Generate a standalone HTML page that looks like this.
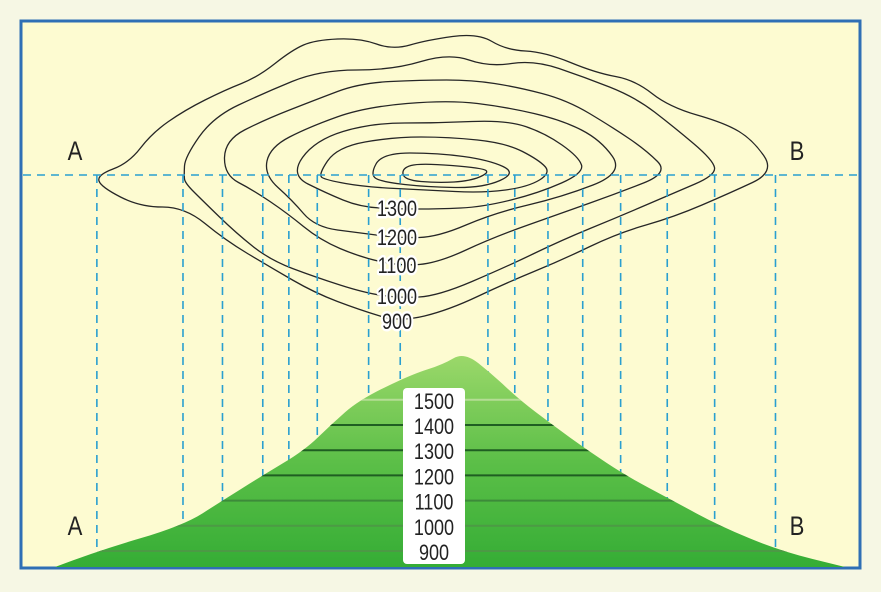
<!DOCTYPE html>
<html><head><meta charset="utf-8">
<style>
html,body{margin:0;padding:0;background:#f6f7e4;}
svg{display:block;}
text{font-family:"Liberation Sans",sans-serif;}
</style></head>
<body>
<svg id="fig" width="881" height="592" viewBox="0 0 881 592">
  <rect x="0" y="0" width="881" height="592" fill="#f6f7e4"/>
  <rect x="21" y="21" width="839" height="547" fill="#fdfbd1" stroke="#2f6fb5" stroke-width="3"/>
  <g id="contours"></g>
  <line x1="23" y1="175" x2="858" y2="175" stroke="#2a9fd0" stroke-width="1.6" stroke-dasharray="8,6"/>
  <g id="drops"></g>
  <g id="profile"></g>
  <g id="labels"></g>
</svg>
<script>
// Section data: distance along A–B (0–100) and elevation (m) at each contour crossing
const distances = [0, 5.3, 16.2, 21.2, 26.3, 31.6, 34.9, 38.5, 45.1, 49.1, 51.8, 55.4, 58.8, 63.0, 67.4, 72.2, 78.2, 84.1, 91.8, 100];
const elevations = [840, 900, 1000, 1100, 1200, 1300, 1400, 1500, 1600, 1640, 1690, 1600, 1500, 1400, 1300, 1200, 1100, 1000, 900, 840];
const crossDistances = [5.3, 16.2, 21.2, 26.3, 29.6, 33.2, 39.7, 43.7, 54.8, 58.2, 62.4, 66.8, 71.6, 77.5, 83.5, 91.2];
const profileLevels = [900, 1000, 1100, 1200, 1300, 1400, 1500];
const mapLabels = ["1300", "1200", "1100", "1000", "900"];

const NS = "http://www.w3.org/2000/svg";
const X0 = 55, X1 = 845;
const xs = d => X0 + (X1 - X0) * d / 100;
const ys = e => 551 - (e - 900) * 0.252;

function mk(tag, attrs, parent) {
  const el = document.createElementNS(NS, tag);
  for (const k in attrs) el.setAttribute(k, attrs[k]);
  parent.appendChild(el);
  return el;
}
function smooth(pts, closed) {
  const n = pts.length;
  let d = "";
  if (closed) {
    const m = (a, b) => [(a[0] + b[0]) / 2, (a[1] + b[1]) / 2];
    let s = m(pts[n - 1], pts[0]);
    d = "M" + s[0] + "," + s[1];
    for (let i = 0; i < n; i++) {
      const p = pts[i], q = m(pts[i], pts[(i + 1) % n]);
      d += " Q" + p[0] + "," + p[1] + " " + q[0] + "," + q[1];
    }
    return d + "Z";
  }
  d = "M" + pts[0][0] + "," + pts[0][1];
  for (let i = 1; i < n - 1; i++) {
    const q = [(pts[i][0] + pts[i + 1][0]) / 2, (pts[i][1] + pts[i + 1][1]) / 2];
    d += " Q" + pts[i][0] + "," + pts[i][1] + " " + q[0] + "," + q[1];
  }
  d += " L" + pts[n - 1][0] + "," + pts[n - 1][1];
  return d;
}

// Contour shapes (map view)
const shapes = [
 [[97,175],[129,163],[152,133],[185,110],[225,90],[258,77],[292,50],[315,40],[360,38],[393,50],[427,40],[478,33],[506,50],[545,52],[596,73],[635,80],[669,107],[725,123],[753,140],[775,172],[730,193],[674,217],[618,233],[562,260],[506,283],[449,310],[400,322],[360,310],[315,293],[270,267],[225,240],[185,207],[140,207],[101,187]],
 [[184,175],[185,157],[213,117],[264,93],[320,70],[393,70],[449,53],[489,67],[534,60],[584,77],[635,97],[674,127],[713,160],[716,175],[674,193],[618,217],[562,240],[506,267],[438,296],[400,298],[365,293],[315,277],[270,260],[236,233],[202,200],[185,183]],
 [[224,175],[225,140],[264,120],[315,100],[360,83],[421,80],[472,80],[517,87],[567,100],[612,127],[646,150],[669,173],[618,193],[562,213],[494,237],[438,263],[400,266],[360,257],[320,240],[287,213],[253,190]],
 [[264,175],[270,147],[309,127],[365,107],[449,100],[506,107],[562,120],[601,140],[624,173],[562,197],[494,213],[438,237],[400,238],[360,233],[315,227],[292,200]],
 [[290,175],[315,140],[371,123],[438,123],[506,120],[545,133],[579,157],[584,173],[539,193],[483,207],[438,209],[400,209],[360,207],[326,193]],
 [[318,175],[337,147],[393,137],[449,137],[506,143],[539,160],[551,173],[528,187],[483,193],[427,190],[365,187],[326,180]],
 [[370,175],[382,153],[438,153],[489,160],[517,173],[483,188],[427,187],[382,182]],
 [[402,168],[420,163],[483,168],[489,173],[470,181],[438,183],[404,180]]
];
const cg = document.getElementById("contours");
shapes.forEach((pts, i) => {
  const p = mk("path", {d: smooth(pts, true), fill: "none", stroke: "#262626", "stroke-width": 1.3, "stroke-linejoin": "round"}, cg);
  
  
});

// projection dashed lines
const dg = document.getElementById("drops");
crossDistances.forEach((d, i) => {
  const l = mk("line", {x1: xs(d), y1: 175, x2: xs(d), y2: 566, stroke: "#2a9fd0", "stroke-width": 1.6, "stroke-dasharray": "8,6"}, dg);
  
  
});

// profile
const pg = document.getElementById("profile");
const defs = mk("defs", {}, pg);
const grad = mk("linearGradient", {id: "gr", x1: 0, y1: 0, x2: 0, y2: 1}, defs);
mk("stop", {offset: "0", "stop-color": "#9bd86a"}, grad);
mk("stop", {offset: "0.5", "stop-color": "#5cbf48"}, grad);
mk("stop", {offset: "1", "stop-color": "#35ad35"}, grad);
const pts = distances.map((d, i) => [xs(d), ys(elevations[i])]);
pts[0][1] = 567; pts[pts.length - 1][1] = 567;
const pd = smooth(pts, false) + " Z";
const cp = mk("clipPath", {id: "cp"}, defs);
mk("path", {d: pd}, cp);
const area = mk("path", {d: pd, fill: "url(#gr)"}, pg);


const bands = mk("g", {"clip-path": "url(#cp)"}, pg);
const lineCols = {900: "#4c9a45", 1000: "#4c9a45", 1100: "#3d8a3a", 1200: "#1f5e22", 1300: "#1f5e22", 1400: "#1f5e22", 1500: "#b5dd95"};
profileLevels.forEach(e => {
  const l = mk("line", {x1: 40, x2: 860, y1: ys(e), y2: ys(e), stroke: lineCols[e], "stroke-width": 2}, bands);
  
  
});

// labels
const lg = document.getElementById("labels");
function label(txt, x, y, size, name, bg) {
  const t = mk("text", {x: x, y: y, "font-size": size, "text-anchor": "middle", fill: "#222",
    transform: "translate(" + x + "," + y + ") scale(0.82,1) translate(" + (-x) + "," + (-y) + ")"}, lg);
  if (bg) { t.setAttribute("stroke", "#fff"); t.setAttribute("stroke-width", 5); t.setAttribute("paint-order", "stroke"); t.setAttribute("stroke-linejoin", "round"); }
  t.textContent = txt;
  
  
}
const mapY = [216, 245, 273, 304, 329];
mapLabels.forEach((t, i) => label(t, 397, mapY[i], 22, 'map-label-' + t, true));
const bg = mk("rect", {x: 403, y: 388, width: 62, height: 176, rx: 4, fill: "#fff"}, lg);


profileLevels.slice().reverse().forEach(e => label(String(e), 434, ys(e) + 9, 22, 'profile-label-' + e, true));
label("A", 75, 160, 27, 'map-point-a', false);
label("B", 797, 160, 27, 'map-point-b', false);
label("A", 75, 535, 27, 'profile-point-a', false);
label("B", 797, 535, 27, 'profile-point-b', false);
</script>
</body></html>
